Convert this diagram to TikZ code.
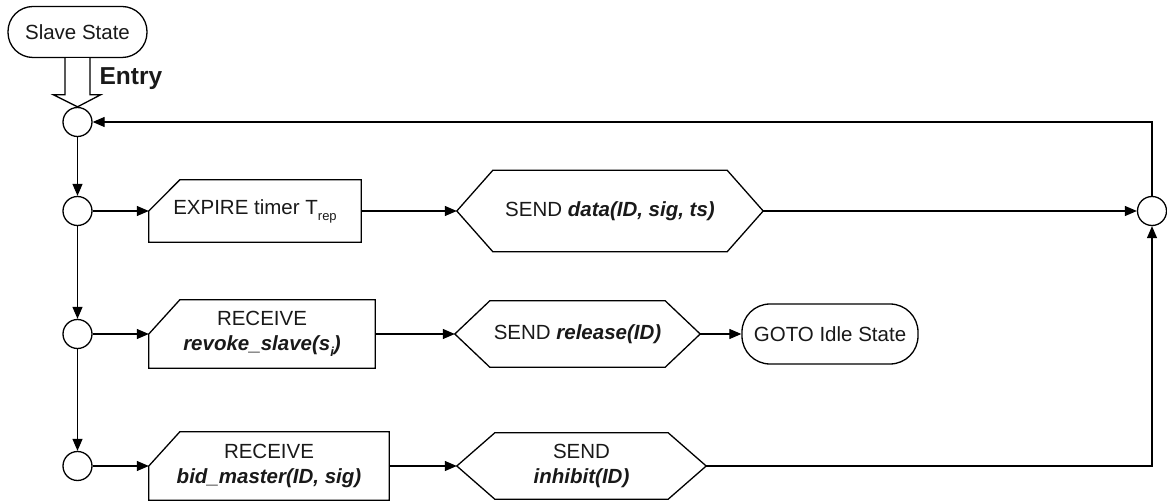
\documentclass[tikz,border=0pt]{standalone}
\usepackage{fontspec}
\setmainfont{Liberation Sans}
\usetikzlibrary{arrows.meta,calc}

% Outline of a "receive/expire" box: top-left corner cut off diagonally
\newcommand\inputbox[1]{%
  \draw[shapeline] (#1.west) -- ([xshift=31pt]#1.north west) -- (#1.north east)
    -- (#1.south east) -- (#1.south west) -- cycle;}
% Outline of a "send" hexagon with slant #2
\newcommand\sendhex[2]{%
  \draw[shapeline] (#1.west) -- ([xshift=#2]#1.north west) -- ([xshift=-#2]#1.north east)
    -- (#1.east) -- ([xshift=-#2]#1.south east) -- ([xshift=#2]#1.south west) -- cycle;}
\newcommand\sub[1]{\raisebox{-0.3em}{\fontsize{13}{13}\selectfont #1}}

\begin{document}
\begin{tikzpicture}[x=1pt,y=-1pt,
  every node/.style={font=\fontsize{20.5}{25}\selectfont, text=black!90, align=center},
  shapeline/.style={line width=1.3pt, line join=miter},
  conn/.style={line width=1.2pt},
  arr/.style={conn, -{Triangle[length=12pt,width=10pt]}},
  junction/.style={circle, draw, line width=1.3pt, minimum size=29pt, inner sep=0pt},
  statebox/.style={draw, line width=1.3pt, rounded corners=25pt, inner sep=0pt},
  textarea/.style={inner sep=0pt, draw=none},
  msg/.style={font=\fontsize{20.5}{25}\selectfont\bfseries\itshape}]

\path[use as bounding box] (0,0) rectangle (1167,502);

% state header and entry
\node[statebox, minimum width=139pt, minimum height=51pt] (slave) at (77.5,32) {Slave State};
\node[anchor=west, font=\fontsize{24.5}{28}\selectfont\bfseries] (entry) at (96,79) {Entry};

% junction points
\node[junction] (c0) at (77.5,122) {};
\node[junction] (c1) at (77.5,211) {};
\node[junction] (c2) at (77.5,334) {};
\node[junction] (c3) at (77.5,466) {};
\node[junction] (cr) at (1152,211) {};

% row 1
\node[textarea, minimum width=212pt, minimum height=62pt] (e1) at (255,211)
  {EXPIRE timer T\sub{rep}};
\node[textarea, minimum width=306pt, minimum height=81pt] (s1) at (610,211)
  {SEND \textbf{\textit{data(ID, sig, ts)}}};
% row 2
\node[textarea, minimum width=226pt, minimum height=68pt] (r2) at (262,334)
  {RECEIVE\\\textbf{\textit{revoke\_slave(s\sub{i})}}};
\node[textarea, minimum width=245pt, minimum height=66pt] (s2) at (577.5,334)
  {SEND \textbf{\textit{release(ID)}}};
\node[statebox, minimum width=176pt, minimum height=60pt, rounded corners=28pt] (goto) at (830,334)
  {GOTO Idle State};
% row 3
\node[textarea, minimum width=240pt, minimum height=68pt] (r3) at (269,466)
  {RECEIVE\\\textbf{\textit{bid\_master(ID, sig)}}};
\node[textarea, minimum width=249pt, minimum height=66pt] (s3) at (581.5,466)
  {SEND\\\textbf{\textit{inhibit(ID)}}};

% outlines
\inputbox{e1}
\inputbox{r2}
\inputbox{r3}
\sendhex{s1}{36pt}
\sendhex{s2}{35pt}
\sendhex{s3}{38pt}

% hollow entry arrow
\draw[shapeline, fill=white]
  ($(slave.south)+(-12.5,0)$) -- ($(c0.north)+(-12.5,-12)$) -- ($(c0.north)+(-24,-12)$)
  -- (c0.north) -- ($(c0.north)+(23,-12)$) -- ($(c0.north)+(12.5,-12)$)
  -- ($(slave.south)+(12.5,0)$);

% left spine
\draw[arr] (c0.south) -- (c1.north);
\draw[arr] (c1.south) -- (c2.north);
\draw[arr] (c2.south) -- (c3.north);

% row connectors
\draw[arr] (c1.east) -- (e1.west);
\draw[arr] (e1.east) -- (s1.west);
\draw[arr] (s1.east) -- (cr.west);

\draw[arr] (c2.east) -- (r2.west);
\draw[arr] (r2.east) -- (s2.west);
\draw[arr] (s2.east) -- (goto.west);

\draw[arr] (c3.east) -- (r3.west);
\draw[arr] (r3.east) -- (s3.west);
\draw[arr] (s3.east) -| (cr.south);

% loop back to the top
\draw[arr] (cr.north) |- (c0.east);
\end{tikzpicture}
\end{document}
